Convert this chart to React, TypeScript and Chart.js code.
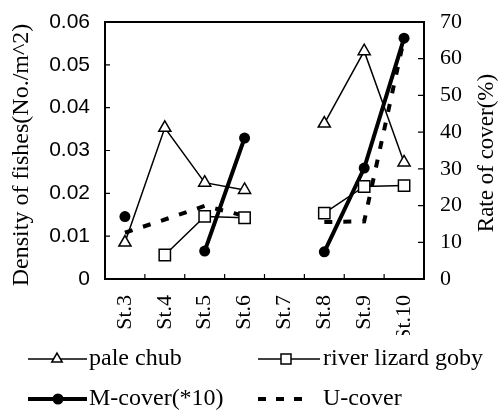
import React, { useEffect, useRef } from "react";
import { Chart, registerables } from "chart.js";

Chart.register(...registerables);

const categories = ["St.3", "St.4", "St.5", "St.6", "St.7", "St.8", "St.9", "St.10"];
const paleChub = [0.0085, 0.0353, 0.0225, 0.0208, null, 0.0363, 0.0532, 0.0272];
const riverLizardGoby = [null, 0.0056, 0.0146, 0.0143, null, 0.0154, 0.0216, 0.0218];
const mCover = [17.0, null, 7.6, 38.4, null, 7.4, 30.2, 65.6];
const uCover = [12.6, 16.2, 19.9, 17.2, null, 15.5, 15.7, 65.5];
const leftTicks = [0, 0.01, 0.02, 0.03, 0.04, 0.05, 0.06];
const rightTicks = [0, 10, 20, 30, 40, 50, 60, 70];
const leftTitle = "Density of fishes(No./m^2)";
const rightTitle = "Rate of cover(%)";
const legendLabels = ["pale chub", "river lizard goby", "M-cover(*10)", "U-cover"];

const SERIF = "'Liberation Serif', 'Times New Roman', serif";
const SANS = "'Liberation Sans', Arial, sans-serif";

function drawMarker(ctx: CanvasRenderingContext2D, kind: string, x: number, y: number) {
  ctx.save();
  ctx.strokeStyle = "#000";
  if (kind === "triangle") {
    const r = 6;
    ctx.lineWidth = 1.5;
    ctx.fillStyle = "#fff";
    ctx.beginPath();
    ctx.moveTo(x, y - r);
    ctx.lineTo(x + r * 0.866, y + r * 0.5);
    ctx.lineTo(x - r * 0.866, y + r * 0.5);
    ctx.closePath();
    ctx.fill();
    ctx.stroke();
  } else if (kind === "rect") {
    ctx.lineWidth = 1.5;
    ctx.fillStyle = "#fff";
    ctx.fillRect(x - 5, y - 5, 10, 10);
    ctx.strokeRect(x - 5, y - 5, 10, 10);
  } else if (kind === "circle") {
    ctx.fillStyle = "#000";
    ctx.beginPath();
    ctx.arc(x, y, 5.5, 0, Math.PI * 2);
    ctx.fill();
  }
  ctx.restore();
}

const framePlugin = {
  id: "frame",
  beforeDatasetsDraw(chart: any) {
    const { ctx, chartArea } = chart;
    const { left, right, top, bottom } = chartArea;
    const yL = chart.scales.y;
    const yR = chart.scales.y1;
    const xS = chart.scales.x;
    ctx.save();
    ctx.strokeStyle = "#000";
    ctx.lineWidth = 2;
    ctx.strokeRect(left, top, right - left, bottom - top);
    ctx.lineWidth = 1.2;
    ctx.beginPath();
    leftTicks.forEach((v) => {
      const y = yL.getPixelForValue(v);
      ctx.moveTo(left, y);
      ctx.lineTo(left + 5, y);
    });
    rightTicks.forEach((v) => {
      const y = yR.getPixelForValue(v);
      ctx.moveTo(right, y);
      ctx.lineTo(right - 6, y);
    });
    for (let i = 1; i < categories.length; i++) {
      const x = (xS.getPixelForValue(i - 1) + xS.getPixelForValue(i)) / 2;
      ctx.moveTo(x, bottom);
      ctx.lineTo(x, bottom - 5);
    }
    ctx.stroke();
    ctx.restore();
  },
  afterDraw(chart: any) {
    const { ctx } = chart;
    ctx.save();
    ctx.fillStyle = "#000";
    ctx.font = `24px ${SERIF}`;
    ctx.textAlign = "center";
    ctx.textBaseline = "middle";
    // axis titles
    ctx.save();
    ctx.translate(22, 155);
    ctx.rotate(-Math.PI / 2);
    ctx.fillText(leftTitle, 0, 0);
    ctx.restore();
    ctx.save();
    ctx.font = `23px ${SERIF}`;
    ctx.translate(487, 153);
    ctx.rotate(-Math.PI / 2);
    ctx.fillText(rightTitle, 0, 0);
    ctx.restore();

    // legend
    ctx.textAlign = "left";
    const row1 = 359;
    const row2 = 399;
    ctx.strokeStyle = "#000";
    // pale chub
    ctx.lineWidth = 1.5;
    ctx.beginPath();
    ctx.moveTo(28, row1);
    ctx.lineTo(87, row1);
    ctx.stroke();
    drawMarker(ctx, "triangle", 57, row1);
    ctx.fillText(legendLabels[0], 89, row1);
    // river lizard goby
    ctx.beginPath();
    ctx.moveTo(258, row1);
    ctx.lineTo(320, row1);
    ctx.stroke();
    drawMarker(ctx, "rect", 286, row1);
    ctx.fillText(legendLabels[1], 323, row1);
    // M-cover
    ctx.lineWidth = 4;
    ctx.beginPath();
    ctx.moveTo(28, row2);
    ctx.lineTo(87, row2);
    ctx.stroke();
    drawMarker(ctx, "circle", 58, row2);
    ctx.fillText(legendLabels[2], 89, row2);
    // U-cover
    ctx.setLineDash([8, 10]);
    ctx.beginPath();
    ctx.moveTo(258, row2);
    ctx.lineTo(304, row2);
    ctx.stroke();
    ctx.setLineDash([]);
    ctx.fillText(legendLabels[3], 323, row2);
    ctx.restore();
  },
};

export default function App() {
  const canvasRef = useRef<HTMLCanvasElement | null>(null);

  useEffect(() => {
    if (!canvasRef.current) return;
    const chart = new Chart(canvasRef.current, {
      type: "line",
      data: {
        labels: categories,
        datasets: [
          {
            label: legendLabels[0],
            data: paleChub,
            yAxisID: "y",
            borderColor: "#000",
            borderWidth: 1.5,
            pointStyle: "triangle",
            pointRadius: 7,
            pointBackgroundColor: "#fff",
            pointBorderColor: "#000",
            pointBorderWidth: 1.5,
            spanGaps: false,
            tension: 0,
          },
          {
            label: legendLabels[1],
            data: riverLizardGoby,
            yAxisID: "y",
            borderColor: "#000",
            borderWidth: 1.5,
            pointStyle: "rect",
            pointRadius: 8,
            pointBackgroundColor: "#fff",
            pointBorderColor: "#000",
            pointBorderWidth: 1.5,
            spanGaps: false,
            tension: 0,
          },
          {
            label: legendLabels[2],
            data: mCover,
            yAxisID: "y1",
            borderColor: "#000",
            borderWidth: 4,
            pointStyle: "circle",
            pointRadius: 5.5,
            pointBackgroundColor: "#000",
            pointBorderColor: "#000",
            pointBorderWidth: 0,
            spanGaps: false,
            tension: 0,
          },
          {
            label: legendLabels[3],
            data: uCover,
            yAxisID: "y1",
            borderColor: "#000",
            borderWidth: 4,
            borderDash: [8, 11],
            pointRadius: 0,
            spanGaps: false,
            tension: 0,
          },
        ],
      },
      options: {
        animation: false,
        responsive: false,
        maintainAspectRatio: false,
        layout: { padding: { top: 22, bottom: 80, left: 0, right: 0 } },
        plugins: {
          legend: { display: false },
          tooltip: { enabled: false },
        },
        scales: {
          x: {
            type: "category",
            offset: true,
            grid: { display: false, drawTicks: false },
            border: { display: false },
            ticks: {
              autoSkip: false,
              minRotation: 90,
              maxRotation: 90,
              padding: 16,
              color: "#000",
              font: { family: SERIF, size: 22 },
            },
            afterFit: (s: any) => {
              s.height = 56;
            },
          },
          y: {
            type: "linear",
            position: "left",
            min: 0,
            max: 0.06,
            grid: { display: false, drawTicks: false },
            border: { display: false },
            ticks: {
              stepSize: 0.01,
              padding: 15,
              color: "#000",
              font: { family: SANS, size: 21 },
            },
            afterFit: (s: any) => {
              s.width = 105;
              s.paddingTop = 0;
              s.paddingBottom = 0;
            },
          },
          y1: {
            type: "linear",
            position: "right",
            min: 0,
            max: 70,
            grid: { display: false, drawTicks: false },
            border: { display: false },
            ticks: {
              stepSize: 10,
              padding: 16,
              color: "#000",
              font: { family: SERIF, size: 22 },
            },
            afterFit: (s: any) => {
              s.width = 77;
              s.paddingTop = 0;
              s.paddingBottom = 0;
            },
          },
        },
      },
      plugins: [framePlugin],
    });
    return () => chart.destroy();
  }, []);

  return (
    <div style={{ position: "absolute", left: 0, top: 0, width: 501, height: 415, background: "#fff" }}>
      <canvas ref={canvasRef} width={501} height={415} style={{ display: "block" }} />
    </div>
  );
}
